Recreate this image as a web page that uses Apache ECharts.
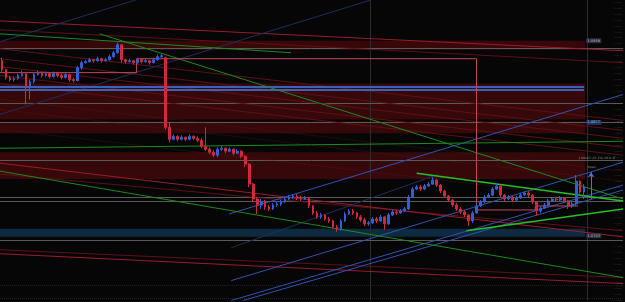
<!DOCTYPE html>
<html>
<head>
<meta charset="utf-8">
<script src="https://cdn.jsdelivr.net/npm/echarts@6/dist/echarts.min.js"></script>
<style>
  html, body { margin: 0; padding: 0; background: #060606; }
  #chart { width: 625px; height: 302px; }
</style>
</head>
<body>
<div id="chart"></div>
<script>
// candles: [open, close, low, high], one per bar
const candles = [
  [1.0939,1.0930,1.0928,1.0942],[1.0930,1.0922,1.0920,1.0931],[1.0922,1.0920,1.0918,1.0924],[1.0920,1.0921,1.0918,1.0923],
  [1.0921,1.0924,1.0920,1.0926],[1.0924,1.0926,1.0923,1.0929],[1.0926,1.0912,1.0895,1.0928],[1.0912,1.0918,1.0900,1.0920],
  [1.0918,1.0925,1.0916,1.0927],[1.0925,1.0927,1.0924,1.0929],[1.0927,1.0924,1.0922,1.0928],[1.0924,1.0926,1.0923,1.0928],
  [1.0926,1.0923,1.0921,1.0927],[1.0923,1.0926,1.0922,1.0928],[1.0926,1.0924,1.0922,1.0927],[1.0924,1.0922,1.0920,1.0926],
  [1.0922,1.0925,1.0921,1.0927],[1.0925,1.0920,1.0918,1.0926],[1.0920,1.0919,1.0917,1.0922],[1.0919,1.0932,1.0918,1.0934],
  [1.0932,1.0937,1.0930,1.0939],[1.0937,1.0938,1.0936,1.0940],[1.0938,1.0940,1.0937,1.0942],[1.0940,1.0939,1.0937,1.0941],
  [1.0939,1.0941,1.0938,1.0943],[1.0941,1.0939,1.0937,1.0942],[1.0939,1.0940,1.0938,1.0942],[1.0940,1.0943,1.0939,1.0945],
  [1.0943,1.0947,1.0942,1.0949],[1.0947,1.0955,1.0946,1.0957],[1.0955,1.0940,1.0937,1.0956],[1.0940,1.0938,1.0936,1.0941],
  [1.0938,1.0939,1.0937,1.0941],[1.0939,1.0937,1.0935,1.0940],[1.0937,1.0940,1.0936,1.0942],[1.0940,1.0938,1.0936,1.0941],
  [1.0938,1.0939,1.0937,1.0941],[1.0939,1.0937,1.0935,1.0940],[1.0937,1.0940,1.0936,1.0942],[1.0940,1.0943,1.0939,1.0945],
  [1.0943,1.0944,1.0942,1.0946],[1.0942,1.0872,1.0870,1.0943],[1.0872,1.0860,1.0857,1.0877],[1.0860,1.0863,1.0859,1.0865],
  [1.0863,1.0860,1.0858,1.0864],[1.0860,1.0862,1.0859,1.0864],[1.0862,1.0860,1.0858,1.0863],[1.0860,1.0863,1.0859,1.0865],
  [1.0863,1.0861,1.0859,1.0864],[1.0861,1.0859,1.0857,1.0863],[1.0859,1.0853,1.0851,1.0861],[1.0853,1.0850,1.0848,1.0872],
  [1.0850,1.0847,1.0845,1.0852],[1.0847,1.0844,1.0842,1.0849],[1.0844,1.0850,1.0842,1.0852],[1.0850,1.0851,1.0848,1.0853],
  [1.0851,1.0848,1.0846,1.0852],[1.0848,1.0850,1.0847,1.0852],[1.0850,1.0846,1.0844,1.0851],[1.0846,1.0848,1.0845,1.0850],
  [1.0848,1.0843,1.0841,1.0849],[1.0843,1.0835,1.0832,1.0844],[1.0835,1.0815,1.0812,1.0836],[1.0815,1.0800,1.0797,1.0816],
  [1.0800,1.0794,1.0785,1.0802],[1.0794,1.0797,1.0790,1.0800],[1.0797,1.0792,1.0789,1.0799],[1.0792,1.0790,1.0788,1.0794],
  [1.0790,1.0794,1.0789,1.0796],[1.0794,1.0795,1.0792,1.0797],[1.0795,1.0797,1.0793,1.0799],[1.0797,1.0800,1.0796,1.0802],
  [1.0800,1.0802,1.0799,1.0804],[1.0802,1.0803,1.0800,1.0805],[1.0803,1.0801,1.0799,1.0805],[1.0801,1.0800,1.0798,1.0803],
  [1.0800,1.0801,1.0799,1.0803],[1.0801,1.0793,1.0791,1.0802],[1.0793,1.0786,1.0784,1.0794],[1.0786,1.0782,1.0780,1.0788],
  [1.0782,1.0784,1.0780,1.0786],[1.0784,1.0780,1.0778,1.0785],[1.0780,1.0778,1.0776,1.0782],[1.0778,1.0772,1.0770,1.0779],
  [1.0772,1.0770,1.0767,1.0774],[1.0770,1.0778,1.0768,1.0780],[1.0778,1.0785,1.0777,1.0787],[1.0785,1.0788,1.0784,1.0790],
  [1.0788,1.0786,1.0784,1.0790],[1.0786,1.0782,1.0780,1.0787],[1.0782,1.0779,1.0777,1.0784],[1.0779,1.0775,1.0773,1.0781],
  [1.0775,1.0776,1.0773,1.0778],[1.0776,1.0780,1.0775,1.0782],[1.0780,1.0778,1.0776,1.0782],[1.0778,1.0782,1.0777,1.0784],
  [1.0782,1.0775,1.0769,1.0783],[1.0775,1.0784,1.0774,1.0786],[1.0784,1.0787,1.0783,1.0789],[1.0787,1.0786,1.0784,1.0789],
  [1.0786,1.0788,1.0785,1.0790],[1.0788,1.0790,1.0787,1.0792],[1.0790,1.0802,1.0789,1.0804],[1.0802,1.0810,1.0801,1.0812],
  [1.0810,1.0812,1.0809,1.0814],[1.0812,1.0810,1.0808,1.0814],[1.0810,1.0813,1.0809,1.0815],[1.0813,1.0815,1.0812,1.0817],
  [1.0815,1.0819,1.0814,1.0822],[1.0819,1.0814,1.0812,1.0820],[1.0814,1.0808,1.0806,1.0815],[1.0808,1.0803,1.0801,1.0809],
  [1.0803,1.0799,1.0797,1.0804],[1.0799,1.0794,1.0792,1.0800],[1.0794,1.0790,1.0788,1.0796],[1.0790,1.0787,1.0785,1.0792],
  [1.0787,1.0784,1.0782,1.0789],[1.0784,1.0778,1.0773,1.0785],[1.0778,1.0786,1.0776,1.0788],[1.0786,1.0793,1.0785,1.0795],
  [1.0793,1.0797,1.0792,1.0799],[1.0797,1.0802,1.0796,1.0804],[1.0802,1.0804,1.0801,1.0806],[1.0804,1.0810,1.0803,1.0812],
  [1.0810,1.0813,1.0809,1.0816],[1.0813,1.0804,1.0802,1.0814],[1.0804,1.0800,1.0798,1.0805],[1.0800,1.0802,1.0799,1.0804],
  [1.0802,1.0799,1.0797,1.0803],[1.0799,1.0801,1.0798,1.0803],[1.0801,1.0804,1.0800,1.0806],[1.0804,1.0806,1.0803,1.0808],
  [1.0806,1.0804,1.0802,1.0808],[1.0804,1.0797,1.0795,1.0805],[1.0797,1.0788,1.0783,1.0798],[1.0788,1.0791,1.0786,1.0793],
  [1.0791,1.0794,1.0790,1.0796],[1.0794,1.0798,1.0793,1.0800],[1.0798,1.0800,1.0797,1.0802],[1.0800,1.0799,1.0797,1.0802],
  [1.0799,1.0801,1.0798,1.0803],[1.0801,1.0798,1.0796,1.0802],[1.0798,1.0793,1.0790,1.0799],[1.0793,1.0795,1.0791,1.0797],
  [1.0795,1.0818,1.0793,1.0824],[1.0818,1.0807,1.0804,1.0819],[1.0807,1.0812,1.0800,1.0815]
];

const priceMin = 1.0698;
const priceMax = 1.1000;
const barsShown = 156.25;   // x range in bars, incl. right margin
const lastBar = 146.75;

// zones: [fromBar, toBar, top, bottom]
const redZones = [
  [0, lastBar, 1.0959, 1.0950],
  [0, lastBar, 1.0916, 1.0896],
  [0, lastBar, 1.0896, 1.0880],
  [0, lastBar, 1.0878, 1.0866],
  [0, lastBar, 1.0847, 1.0820]
];
const blueZones = [[0, lastBar, 1.0770, 1.0762]];

// trend lines: [[bar, price], [bar, price]]
const redLines = [
  [[0, 1.0979], [156.25, 1.0949]],
  [[0, 1.0836], [156.25, 1.0762]],
  [[0, 1.0745], [156.25, 1.0715]]
];
const redDimLines = [
  [[0, 1.0970], [156.25, 1.0937]],
  [[0, 1.0951], [156.25, 1.0879]],
  [[0, 1.0941], [156.25, 1.0869]],
  [[0, 1.0933], [156.25, 1.0861]],
  [[0, 1.0924], [156.25, 1.0852]],
  [[0, 1.0916], [156.25, 1.0844]],
  [[0, 1.0825], [156.25, 1.0768]],
  [[0, 1.0749], [156.25, 1.0721]]
];
const redDotLines = [
  [[0, 1.0900], [156.25, 1.0828]],
  [[0, 1.0890], [156.25, 1.0818]],
  [[0, 1.0870], [156.25, 1.0798]]
];
const blueLines = [
  [[58, 1.0698], [156.25, 1.0814]],
  [[61, 1.0698], [156.25, 1.0809]],
  [[58, 1.0718], [156.25, 1.0837]],
  [[57.5, 1.0785], [156.25, 1.0905]]
];
const blueDimLines = [
  [[0, 1.0885], [93, 1.1000]],
  [[0, 1.0958], [34, 1.1000]],
  [[58, 1.0751], [110, 1.0825]]
];
const blueLevels = [1.0913, 1.0910];
const greenLines = [
  [[0, 1.0966], [73, 1.0947]],
  [[0, 1.0828], [156.25, 1.0721]],
  [[25, 1.0966], [156.25, 1.0800]],
  [[0, 1.0851], [156.25, 1.0858]]
];
const greenBrightLines = [
  [[104.5, 1.0826], [156.25, 1.0798]],
  [[117, 1.0768], [156.25, 1.0790]]
];
const grayLevels = [1.0952, 1.0896, 1.0877, 1.0839, 1.0802, 1.0798, 1.0759];
const grayDotLevels = [1.0713, 1.0700];
const stepLine = [[0, 1.0927], [34.25, 1.0927], [34.25, 1.0941], [119.5, 1.0941], [119.5, 1.0789],
  [134.25, 1.0789], [134.25, 1.0793], [145, 1.0793]];
const verticals = [92.75, 147.25];
const priceTags = [
  { bar: 147, price: 1.0959, text: '1.0959', bg: '#3c3650' },
  { bar: 147, price: 1.0877, text: '1.0877', bg: '#1e3c7c' },
  { bar: 147, price: 1.0763, text: '1.0763', bg: '#343850' }
];
const arrow = [[148.25, 1.0800], [148.25, 1.0827]];

const chart = echarts.init(document.getElementById('chart'));

function seg(list) {
  return list.map(c => ({ coords: c }));
}
function hLines(levels, from, to) {
  return levels.map(p => ({ coords: [[from, p], [to, p]] }));
}
function linesSeries(data, color, width, opts) {
  return Object.assign({
    type: 'lines', coordinateSystem: 'cartesian2d', silent: true, z: 2,
    lineStyle: { color: color, width: width, opacity: 1 },
    data: data
  }, opts || {});
}
function zoneSeries(zones, fill) {
  return {
    type: 'custom', silent: true, z: 1,
    encode: { x: [0, 1], y: [2, 3] },
    data: zones,
    renderItem: (params, api) => {
      const a = api.coord([api.value(0), api.value(2)]);
      const b = api.coord([api.value(1), api.value(3)]);
      return { type: 'rect', shape: { x: a[0], y: a[1], width: b[0] - a[0], height: b[1] - a[1] }, style: { fill: fill } };
    }
  };
}

chart.setOption({
  backgroundColor: '#060606',
  animation: false,
  grid: { left: 0, right: 0, top: 0, bottom: 0 },
  xAxis: { type: 'value', min: 0, max: barsShown, show: false },
  yAxis: {
    type: 'value', position: 'right', min: priceMin, max: priceMax, interval: 0.0006,
    axisLine: { show: false }, axisTick: { show: false }, splitLine: { show: false },
    axisLabel: { inside: true, fontSize: 2.5, color: '#383838', margin: 1, formatter: v => v.toFixed(4) }
  },
  series: [
    zoneSeries(redZones, 'rgba(125,12,16,0.42)'),
    zoneSeries(blueZones, 'rgba(20,72,112,0.55)'),
    linesSeries(verticals.map(x => ({ coords: [[x, priceMin], [x, priceMax]] })), '#2c2c2c', 1),
    linesSeries(hLines(grayLevels, 0, barsShown), '#5a5a5a', 1),
    linesSeries(hLines(grayDotLevels, 0, barsShown), '#3a3a3a', 1, { lineStyle: { color: '#3a3a3a', width: 1, type: 'dotted' } }),
    linesSeries(seg(redDimLines), '#5e1018', 1),
    linesSeries(seg(redDotLines), '#5a1a20', 1, { lineStyle: { color: '#6a1c24', width: 1, type: 'dotted' } }),
    linesSeries(seg(redLines), '#9a1c2c', 1),
    linesSeries(seg(blueDimLines), '#1c2e5c', 1),
    linesSeries(seg(blueLines), '#3152b0', 1),
    linesSeries(hLines(blueLevels, 0, 146.5), '#3a62b8', 2),
    linesSeries(seg(greenLines), '#1c8a1c', 1),
    linesSeries(seg(greenBrightLines), '#26c026', 1.5),
    linesSeries([{ coords: stepLine }], '#c24858', 1, { polyline: true }),
    {
      type: 'candlestick', z: 3,
      data: candles.map((c, i) => [i + 0.5].concat(c)),
      encode: { x: 0, y: [1, 2, 3, 4] },
      barWidth: 2.2,
      itemStyle: { color: '#2f5fd8', color0: '#d0283c', borderColor: '#2f5fd8', borderColor0: '#d0283c', borderWidth: 1 }
    },
    linesSeries([{ coords: arrow }], '#4a72e8', 1, { z: 4, symbol: ['none', 'arrow'], symbolSize: 5 }),
    {
      type: 'scatter', z: 5, symbolSize: 0, silent: true,
      data: priceTags.map(t => ({
        value: [t.bar, t.price],
        label: { show: true, position: 'right', distance: 0, formatter: t.text, fontSize: 3.5, color: '#d0d0d0',
          backgroundColor: t.bg, padding: [0.5, 1.5], borderRadius: 1, fontFamily: 'DejaVu Sans' }
      })).concat([
        { value: [145, 1.0841], label: { show: true, position: 'right', distance: 0, formatter: '1.08487 (15.1%) 20.0 4T',
            fontSize: 3, color: '#aaaaaa', fontFamily: 'DejaVu Sans' } },
        { value: [147.3, 1.0832], label: { show: true, position: 'right', distance: 0, formatter: 'Ymax',
            fontSize: 3, color: '#aaaaaa', fontFamily: 'DejaVu Sans' } }
      ])
    }
  ]
});
</script>
</body>
</html>
